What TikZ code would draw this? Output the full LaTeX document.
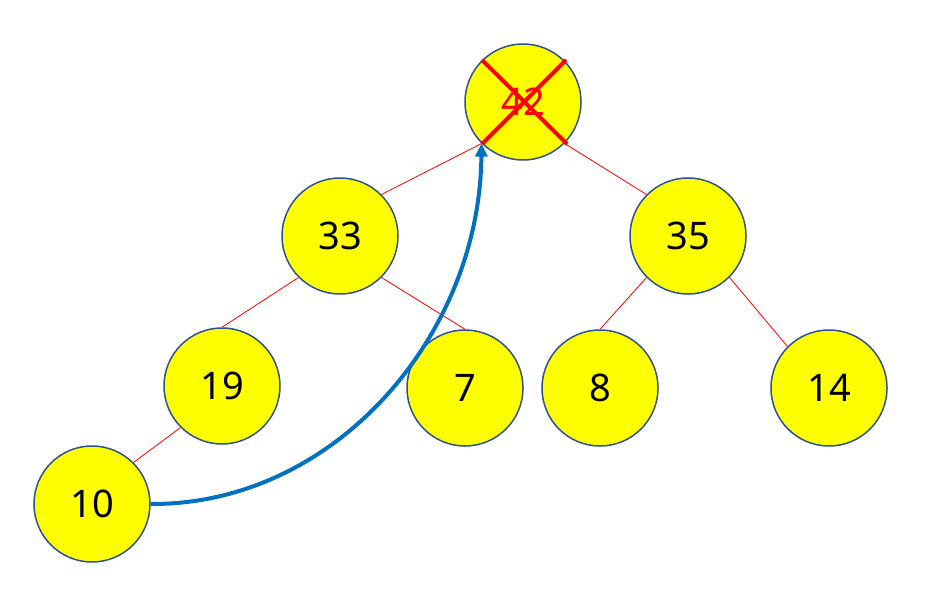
\documentclass[tikz,border=0pt]{standalone}
\usepackage{fontspec}
\setmainfont{Noto Sans}
\usetikzlibrary{arrows.meta}
\definecolor{nodeborder}{HTML}{2F528F}
\definecolor{nodefill}{HTML}{FFFF00}
\definecolor{arrowblue}{HTML}{0070C0}
\tikzset{
  heapnode/.style={circle, draw=nodeborder, line width=1.5pt, fill=nodefill, minimum size=116pt, inner sep=0pt, font=\fontsize{38}{42}\selectfont},
  edge/.style={draw=red, line width=0.8pt},
  cross/.style={draw=red, line width=4pt},
  movearrow/.style={draw=arrowblue, line width=4pt, -{Triangle[length=13pt,width=12pt]}}
}
\begin{document}
\begin{tikzpicture}[x=1pt,y=-1pt]
\useasboundingbox (0,0) rectangle (936,601);
\node[heapnode, text=red] (n42) at (523,102) {42};
\node[heapnode] (n33) at (340,236) {33};
\node[heapnode] (n35) at (688,236) {35};
\node[heapnode] (n19) at (222,386) {19};
\node[heapnode] (n7) at (465,388) {7};
\node[heapnode] (n8) at (600,388) {8};
\node[heapnode] (n14) at (829,388) {14};
\node[heapnode] (n10) at (92,504) {10};
\draw[edge] (n42.south west) -- (n33.north east);
\draw[edge] (n42.south east) -- (n35.north west);
\draw[edge] (n33.south west) -- (n19.north);
\draw[edge] (n33.south east) -- (n7.north);
\draw[edge] (n35.south west) -- (n8.north);
\draw[edge] (n35.south east) -- (n14.north west);
\draw[edge] (n19.south west) -- (n10.north east);
\coordinate (x1) at (482,60);
\coordinate (x2) at (567,144);
\coordinate (x3) at (566,60);
\coordinate (x4) at (482,144);
\draw[cross] (x1) -- (x2);
\draw[cross] (x3) -- (x4);
\draw[movearrow] (n10.east) .. controls (335,505) and (480,335) .. (n42.south west);
\end{tikzpicture}
\end{document}
